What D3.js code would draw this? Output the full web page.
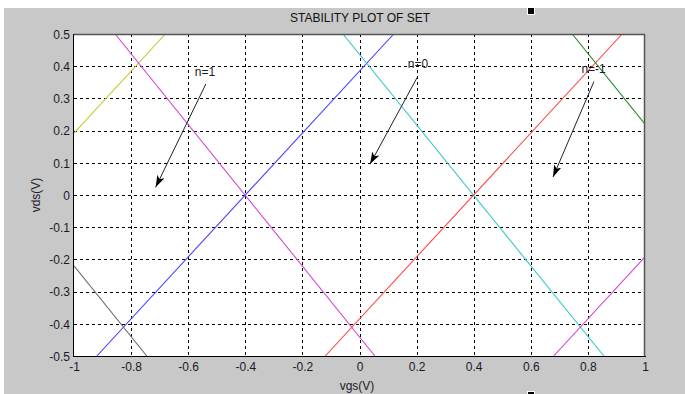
<!DOCTYPE html>
<html>
<head>
<meta charset="utf-8">
<script src="https://cdn.jsdelivr.net/npm/d3@7"></script>
<style>
  html, body { margin: 0; padding: 0; background: #ffffff; }
  svg { display: block; font-family: "Liberation Sans", Arial, sans-serif; }
</style>
</head>
<body>
<svg id="chart" width="685" height="394"></svg>
<script>
// Axis ranges and tick labels
const xTicks = [-1, -0.8, -0.6, -0.4, -0.2, 0, 0.2, 0.4, 0.6, 0.8, 1];
const yTicks = [-0.5, -0.4, -0.3, -0.2, -0.1, 0, 0.1, 0.2, 0.3, 0.4, 0.5];
const xTickLabels = ["-1", "-0.8", "-0.6", "-0.4", "-0.2", "0", "0.2", "0.4", "0.6", "0.8", "1"];
const yTickLabels = ["-0.5", "-0.4", "-0.3", "-0.2", "-0.1", "0", "0.1", "0.2", "0.3", "0.4", "0.5"];

// Stability boundary lines, each given by its two end points [vgs, vds]
const lineNames  = ["yellow", "magentaL", "blue", "cyan", "red", "gray", "green", "magentaR"];
const lineStarts = [[-1, 0.192], [-0.856, 0.5], [-0.92, -0.5], [-0.058, 0.5], [-0.12, -0.5], [-1, -0.22], [0.745, 0.5], [0.68, -0.5]];
const lineEnds   = [[-0.68, 0.5], [0.054, -0.5], [0.12, 0.5], [0.856, -0.5], [0.92, 0.5], [-0.745, -0.5], [1, 0.22], [1, -0.192]];
const lineColors = ["#c8c83a", "#d24ad2", "#4a4aff", "#3cc8c8", "#ff4a4a", "#707070", "#2a8a2a", "#d24ad2"];

// Charge-state annotations: label, label anchor, arrow tail, arrow head (data units)
const noteLabels = ["n=1", "n=0", "n=-1"];
const noteText   = [[-0.541, 0.37], [0.205, 0.395], [0.82, 0.38]];
const noteTails  = [[-0.538, 0.345], [0.202, 0.365], [0.821, 0.352]];
const noteHeads  = [[-0.714, 0.024], [0.037, 0.096], [0.678, 0.056]];

const svg = d3.select("#chart");
const W = 685, H = 394;
const plot = { left: 74, top: 34, right: 645, bottom: 356 };

// Figure background
svg.append("rect").attr("x", 4).attr("y", 8).attr("width", W - 4).attr("height", H - 8).attr("fill", "#c8c8c8");

const x = d3.scaleLinear().domain([-1, 1]).range([plot.left, plot.right]);
const y = d3.scaleLinear().domain([-0.5, 0.5]).range([plot.bottom, plot.top]);

// Plot area
svg.append("rect")
  .attr("x", plot.left).attr("y", plot.top)
  .attr("width", plot.right - plot.left).attr("height", plot.bottom - plot.top)
  .attr("fill", "#ffffff");

// Dashed grid
const grid = svg.append("g").attr("stroke", "#000").attr("stroke-width", 1).attr("stroke-dasharray", "3,3").attr("shape-rendering", "crispEdges");
grid.selectAll("line.v").data(xTicks.slice(1, -1)).join("line")
  .attr("x1", d => Math.round(x(d)) + 0.5).attr("x2", d => Math.round(x(d)) + 0.5)
  .attr("y1", plot.top).attr("y2", plot.bottom);
grid.selectAll("line.h").data(yTicks.slice(1, -1)).join("line")
  .attr("x1", plot.left).attr("x2", plot.right)
  .attr("y1", d => Math.round(y(d)) + 0.5).attr("y2", d => Math.round(y(d)) + 0.5);

// Boundary lines
const clip = svg.append("clipPath").attr("id", "plotclip").append("rect")
  .attr("x", plot.left).attr("y", plot.top)
  .attr("width", plot.right - plot.left).attr("height", plot.bottom - plot.top);
svg.append("g").attr("clip-path", "url(#plotclip)")
  .selectAll("line").data(lineNames).join("line")
  .attr("x1", (d, i) => x(lineStarts[i][0])).attr("y1", (d, i) => y(lineStarts[i][1]))
  .attr("x2", (d, i) => x(lineEnds[i][0])).attr("y2", (d, i) => y(lineEnds[i][1]))
  .attr("stroke", (d, i) => lineColors[i]).attr("stroke-width", 1.1);

// Axes box
const xAxis = d3.axisBottom(x).tickValues(xTicks).tickFormat((d, i) => xTickLabels[i]).tickSize(0).tickPadding(6);
const yAxis = d3.axisLeft(y).tickValues(yTicks).tickFormat((d, i) => yTickLabels[i]).tickSize(0).tickPadding(4);
const gx = svg.append("g").attr("transform", `translate(0,${plot.bottom})`).call(xAxis);
const gy = svg.append("g").attr("transform", `translate(${plot.left},0)`).call(yAxis);
[gx, gy].forEach(g => {
  g.select(".domain").remove();
  g.selectAll("text").attr("font-size", 12).attr("fill", "#1a1a2a").attr("font-family", "Liberation Sans, Arial, sans-serif");
});
gy.selectAll("text").attr("dy", "0.35em");

svg.append("line").attr("x1", plot.left).attr("x2", plot.right).attr("y1", plot.top + 0.5).attr("y2", plot.top + 0.5).attr("stroke", "#555").attr("stroke-width", 1.5);
svg.append("line").attr("x1", plot.right - 0.5).attr("x2", plot.right - 0.5).attr("y1", plot.top).attr("y2", plot.bottom).attr("stroke", "#555").attr("stroke-width", 1.5);
svg.append("line").attr("x1", plot.left).attr("x2", plot.right + 1).attr("y1", plot.bottom + 0.5).attr("y2", plot.bottom + 0.5).attr("stroke", "#000");
svg.append("line").attr("x1", plot.left - 0.5).attr("x2", plot.left - 0.5).attr("y1", plot.top).attr("y2", plot.bottom + 1).attr("stroke", "#000");

// Annotations with arrows
const defs = svg.append("defs");
defs.append("marker").attr("id", "arrowhead")
  .attr("viewBox", "0 0 12 8").attr("refX", 12).attr("refY", 4)
  .attr("markerWidth", 12).attr("markerHeight", 8).attr("markerUnits", "userSpaceOnUse")
  .attr("orient", "auto")
  .append("path").attr("d", "M0,0 L12,4 L0,8 L3,4 Z").attr("fill", "#000");

const notes = svg.append("g");
notes.selectAll("line").data(noteLabels).join("line")
  .attr("x1", (d, i) => x(noteTails[i][0])).attr("y1", (d, i) => y(noteTails[i][1]))
  .attr("x2", (d, i) => x(noteHeads[i][0])).attr("y2", (d, i) => y(noteHeads[i][1]))
  .attr("stroke", "#222").attr("stroke-width", 1).attr("marker-end", "url(#arrowhead)");
notes.selectAll("text").data(noteLabels).join("text")
  .attr("x", (d, i) => x(noteText[i][0])).attr("y", (d, i) => y(noteText[i][1]))
  .attr("text-anchor", "middle").attr("font-size", 12).attr("fill", "#1a1a2a")
  .text(d => d);

// Title and axis labels
svg.append("text").attr("x", 360).attr("y", 22).attr("text-anchor", "middle")
  .attr("font-size", 12).attr("fill", "#111").text("STABILITY PLOT OF SET");
svg.append("text").attr("x", 357).attr("y", 390).attr("text-anchor", "middle")
  .attr("font-size", 12).attr("fill", "#1a1a2a").text("vgs(V)");
svg.append("text").attr("transform", "translate(40,195) rotate(-90)").attr("text-anchor", "middle")
  .attr("font-size", 12).attr("fill", "#1a1a2a").text("vds(V)");

// Small figure handles
svg.append("rect").attr("x", 527.5).attr("y", 7.5).attr("width", 7).attr("height", 7).attr("fill", "#000").attr("stroke", "#fff");
svg.append("rect").attr("x", 527.5).attr("y", 391.5).attr("width", 7).attr("height", 7).attr("fill", "#000").attr("stroke", "#fff");
</script>
</body>
</html>
